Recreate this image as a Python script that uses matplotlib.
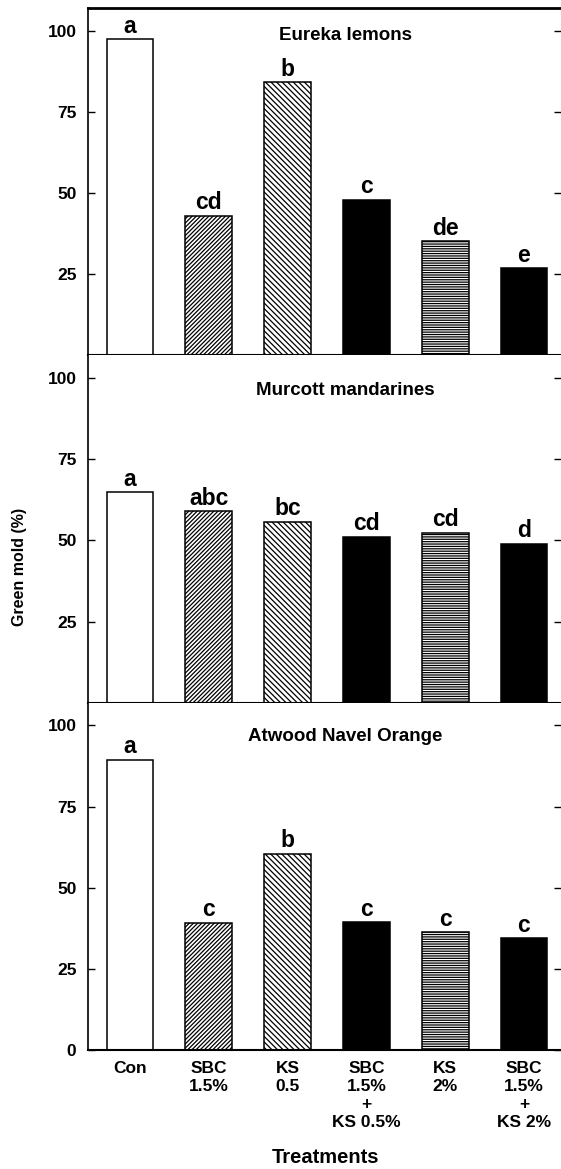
import matplotlib
matplotlib.use("Agg")
import matplotlib.pyplot as plt
import numpy as np

plt.rcParams['font.family'] = ['Liberation Sans', 'DejaVu Sans']
plt.rcParams['font.weight'] = 'bold'
plt.rcParams['hatch.linewidth'] = 0.9

treatments = ["Con", "SBC\n1.5%", "KS\n0.5", "SBC\n1.5%\n+\nKS 0.5%", "KS\n2%", "SBC\n1.5%\n+\nKS 2%"]
fruits = ["Eureka lemons", "Murcott mandarines", "Atwood Navel Orange"]
eureka = [97.3, 43.0, 84.2, 48.0, 35.1, 26.8]
murcott = [64.8, 58.9, 55.7, 51.1, 52.3, 49.0]
atwood = [89.4, 39.2, 60.4, 39.3, 36.2, 34.4]
eureka_letters = ["a", "cd", "b", "c", "de", "e"]
murcott_letters = ["a", "abc", "bc", "cd", "cd", "d"]
atwood_letters = ["a", "c", "b", "c", "c", "c"]

values = [eureka, murcott, atwood]
letters = [eureka_letters, murcott_letters, atwood_letters]

faces = ["white", "white", "white", "black", "white", "black"]
hatches = [None, "////////", "\\" * 6, None, "-------", None]
title_y = [98.4, 96.3, 96.6]

W, H = 561, 1169
fig = plt.figure(figsize=(W / 100, H / 100), dpi=100)
left = 87.5 / W
right = 1.0
top_px, bot_px = 8, 1050
ph = (bot_px - top_px) / 3.0

x = np.arange(len(treatments))
axes = []
for i in range(3):
    t = top_px + i * ph
    ax = fig.add_axes([left, 1 - (t + ph) / H, right - left, ph / H])
    axes.append(ax)
    ax.bar(x, values[i], width=0.594, color=faces, edgecolor="black",
           linewidth=1.1, hatch=hatches, zorder=2)
    for xi, v, lab in zip(x, values[i], letters[i]):
        ax.text(xi, v + 2.0, lab, ha="center", va="baseline",
                fontsize=16.5, fontweight="bold")
    ax.text(2.73, title_y[i], fruits[i], ha="center", va="center",
            fontsize=13.5, fontweight="bold")
    ax.set_xlim(-0.54, 5.47)
    ax.set_ylim(0, 107)
    if i < 2:
        ax.set_yticks([25, 50, 75, 100])
    else:
        ax.set_yticks([0, 25, 50, 75, 100])
    ax.tick_params(axis="y", direction="in", length=5, width=1.0,
                   labelsize=12.5, pad=8, right=True)
    ax.spines["right"].set_visible(False)
    for s in ["left", "bottom", "top"]:
        ax.spines[s].set_linewidth(1.2)
    if i == 0:
        ax.spines["top"].set_linewidth(2.0)
    else:
        ax.spines["top"].set_visible(False)
    ax.spines["bottom"].set_linewidth(1.5)
    if i < 2:
        ax.set_xticks([])
    else:
        ax.set_xticks(x)
        ax.set_xticklabels(treatments, fontsize=12.5, fontweight="bold",
                           linespacing=1.25)
        ax.tick_params(axis="x", length=0, pad=8)
    for lab in ax.get_yticklabels():
        lab.set_fontweight("bold")

fig.text(325.6 / W, 1 - 1157.7 / H, "Treatments", ha="center", va="center",
         fontsize=14.5, fontweight="bold")
fig.text(20 / W, 1 - 567 / H, "Green mold (%)", ha="center", va="center",
         rotation=90, fontsize=11.5, fontweight="bold")

fig.savefig("out.png", dpi=100)
